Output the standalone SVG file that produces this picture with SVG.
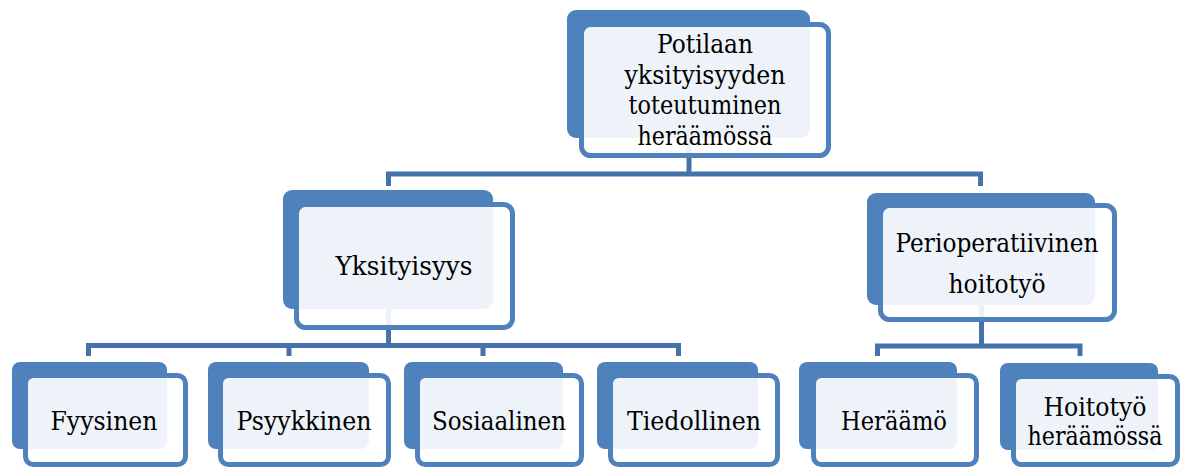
<svg xmlns="http://www.w3.org/2000/svg" width="1186" height="469" viewBox="0 0 1186 469">
<style>
.back{fill:#4F81BD}
.front{fill:#FFFFFF;fill-opacity:0.9;stroke:#4F81BD;stroke-width:5}
.conn{fill:none;stroke:#4672AB;stroke-width:5;stroke-linejoin:miter}
.t{font-family:'DejaVu Serif','Liberation Serif',serif;font-size:26px;fill:#000000;text-anchor:middle}
</style>
<rect width="1186" height="469" fill="#FFFFFF"/>
<g id="connectors">
<path class="conn" d="M689 138 V174 M388.5 186 V174 H980.5 V186"/>
<path class="conn" d="M388.5 309 V345.5 M88.5 356 V345.5 H678.5 V356 M289 345.5 V356 M483 345.5 V356"/>
<path class="conn" d="M981.5 305 V346 M877.5 356 V346 H1080 V356"/>
</g>
<g id="node-root">
<rect class="back" x="567" y="10" width="243" height="128" rx="9"/>
<rect class="front" x="581.5" y="24.5" width="247" height="131" rx="9"/>
<text class="t" x="705" y="53" textLength="96" lengthAdjust="spacingAndGlyphs">Potilaan</text>
<text class="t" x="705" y="83.5" textLength="161" lengthAdjust="spacingAndGlyphs">yksityisyyden</text>
<text class="t" x="705" y="114" textLength="153" lengthAdjust="spacingAndGlyphs">toteutuminen</text>
<text class="t" x="705" y="144.5" textLength="135" lengthAdjust="spacingAndGlyphs">heräämössä</text>
</g>
<g id="node-yksityisyys">
<rect class="back" x="283" y="190" width="210" height="119" rx="9"/>
<rect class="front" x="296.5" y="204.5" width="216" height="123" rx="9"/>
<text class="t" x="404" y="275" textLength="137" lengthAdjust="spacingAndGlyphs">Yksityisyys</text>
</g>
<g id="node-perioperatiivinen">
<rect class="back" x="867" y="193" width="228" height="112" rx="9"/>
<rect class="front" x="880.5" y="205.5" width="234" height="114" rx="9"/>
<text class="t" x="997" y="252" textLength="203" lengthAdjust="spacingAndGlyphs">Perioperatiivinen</text>
<text class="t" x="997" y="293" textLength="97" lengthAdjust="spacingAndGlyphs">hoitotyö</text>
</g>
<g id="node-fyysinen">
<rect class="back" x="12" y="362" width="155" height="87" rx="8"/>
<rect class="front" x="25.5" y="375.5" width="160" height="89" rx="8"/>
<text class="t" x="104" y="430" textLength="107" lengthAdjust="spacingAndGlyphs">Fyysinen</text>
</g>
<g id="node-psyykkinen">
<rect class="back" x="208" y="362" width="161" height="87" rx="8"/>
<rect class="front" x="220.5" y="375.5" width="168" height="89" rx="8"/>
<text class="t" x="304" y="430" textLength="135" lengthAdjust="spacingAndGlyphs">Psyykkinen</text>
</g>
<g id="node-sosiaalinen">
<rect class="back" x="404" y="362" width="159" height="87" rx="8"/>
<rect class="front" x="417.5" y="375.5" width="164" height="89" rx="8"/>
<text class="t" x="499" y="430" textLength="134" lengthAdjust="spacingAndGlyphs">Sosiaalinen</text>
</g>
<g id="node-tiedollinen">
<rect class="back" x="597" y="362" width="161" height="87" rx="8"/>
<rect class="front" x="610.5" y="375.5" width="167" height="89" rx="8"/>
<text class="t" x="694" y="430" textLength="134" lengthAdjust="spacingAndGlyphs">Tiedollinen</text>
</g>
<g id="node-heraamo">
<rect class="back" x="799" y="362" width="158" height="87" rx="8"/>
<rect class="front" x="813.5" y="375.5" width="163" height="89" rx="8"/>
<text class="t" x="894" y="430" textLength="106" lengthAdjust="spacingAndGlyphs">Heräämö</text>
</g>
<g id="node-hoitotyo">
<rect class="back" x="1000" y="363" width="158" height="87" rx="8"/>
<rect class="front" x="1013.5" y="376.5" width="164" height="88" rx="8"/>
<text class="t" x="1095" y="416" textLength="103" lengthAdjust="spacingAndGlyphs">Hoitotyö</text>
<text class="t" x="1095" y="445" textLength="135" lengthAdjust="spacingAndGlyphs">heräämössä</text>
</g>
</svg>
